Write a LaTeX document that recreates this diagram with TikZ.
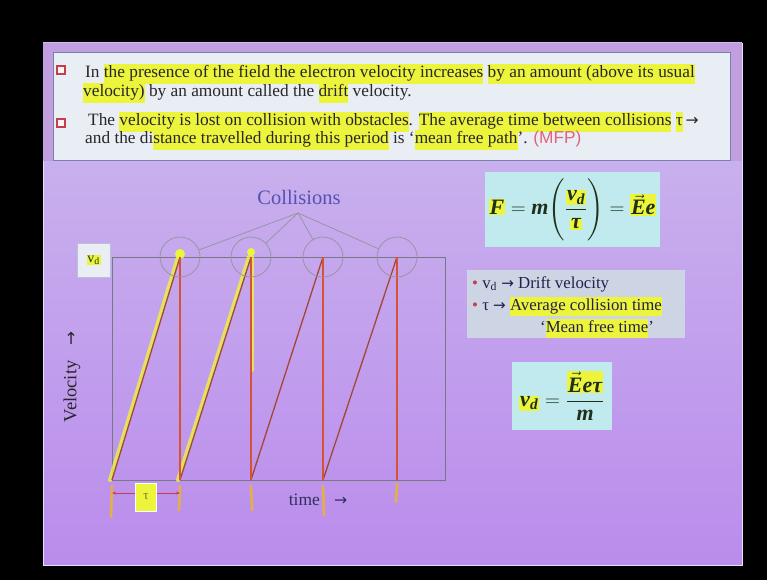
\documentclass[tikz,border=0pt]{standalone}
\usepackage{amsmath}
\usepackage{fontspec}
\setmainfont{Liberation Serif}
\newfontfamily\mfpfont{Liberation Sans}
\newfontfamily\arrf{DejaVu Sans}
\usetikzlibrary{arrows.meta}
\definecolor{slidetop}{RGB}{205,186,238}
\definecolor{slidemid}{RGB}{237,235,245}
\definecolor{slidebot}{RGB}{186,140,236}
\definecolor{boxfill}{RGB}{232,238,244}
\definecolor{boxline}{RGB}{120,128,176}
\definecolor{textc}{RGB}{40,38,44}
\definecolor{hly}{RGB}{236,244,60}
\definecolor{bred}{RGB}{200,60,80}
\definecolor{eqfill}{RGB}{192,234,238}
\definecolor{legfill}{RGB}{205,213,228}
\definecolor{eqtext}{RGB}{30,48,28}
\definecolor{collc}{RGB}{82,82,178}
\definecolor{greyl}{RGB}{150,150,162}
\definecolor{rampc}{RGB}{165,70,52}
\definecolor{vertc}{RGB}{215,82,50}
\definecolor{penc}{RGB}{228,176,70}
\definecolor{mfpc}{RGB}{222,100,130}
\definecolor{navy}{RGB}{48,46,96}
\newcommand\hl[1]{{\setlength{\fboxsep}{0pt}\colorbox{hly}{\strut #1}}}
\newcommand\hlm[1]{{\setlength{\fboxsep}{0.8pt}\colorbox{hly}{#1}}}
\newcommand\bi[1]{\textbf{\textit{#1}}}
\newcommand\rarr{{\arrf\scalebox{0.9}{→}}}
\tikzset{
  txt/.style={anchor=base west, inner sep=0pt, text=textc, font=\fontsize{17.3}{19.5}\selectfont},
  legtxt/.style={anchor=base west, inner sep=0pt, text=textc!85!blue, font=\fontsize{16.8}{19}\selectfont},
  chk/.style={draw=bred, line width=1.2pt, fill=white!85!pink, minimum size=8pt, inner sep=0pt},
  eqbox/.style={fill=eqfill, inner sep=0pt, text=eqtext},
  collcirc/.style={circle, draw=greyl, line width=0.8pt, minimum size=40pt, inner sep=0pt},
  ramp/.style={draw=rampc, line width=1.3pt},
  vert/.style={draw=vertc, line width=1.3pt},
  pen/.style={draw=penc, line width=2.6pt, line cap=round},
  hlpen/.style={draw=hly, line width=4pt, line cap=round, opacity=0.8},
}
\begin{document}
\begin{tikzpicture}[x=1pt,y=-1pt]
\useasboundingbox (0,0) rectangle (767,580);
\fill[black] (0,0) rectangle (767,580);
% slide
\shade[top color=slidetop, middle color=slidemid, bottom color=slidebot] (43,43) rectangle (742,565);
\draw[white!70!slidebot, line width=0.8pt] (43,43) rectangle (742,565);
\fill[slidetop!85!violet] (43,43) rectangle (742,52);
\fill[slidetop!85!violet] (43,43) rectangle (53,161);
\fill[slidetop!85!violet] (730,43) rectangle (742,161);
% text box
\draw[fill=boxfill, draw=boxline, line width=0.8pt] (53,52) rectangle (730,160);
\node[chk] (b1) at (61,70) {};
\node[chk] (b2) at (61,123) {};
\node[txt] (l1) at (85,78) {In \hl{the presence of the field the electron velocity increases} \hl{by an amount (above its usual}};
\node[txt] (l2) at (83,97) {\hl{velocity)} by an amount called the \hl{drift} velocity.};
\node[txt] (l3) at (88,126) {The \hl{velocity is lost on collision with obstacles}. \hl{The average time between collisions} \hl{τ}\,\rarr};
\node[txt] (l4) at (85,144) {and the di\hl{stance travelled during this period} is ‘\hl{mean free path}’. {\mfpfont\color{mfpc}(MFP)}};

% graph
\coordinate (b0) at (112,480);
\coordinate (b1x) at (180,480);
\coordinate (b2x) at (251,480);
\coordinate (b3x) at (323,480);
\coordinate (b4x) at (397,480);
\coordinate (t1) at (180,257);
\coordinate (t2) at (251,257);
\coordinate (t3) at (323,257);
\coordinate (t4) at (397,257);
\draw[greyl!80!black, line width=0.9pt] (112,257) rectangle (445,480);
% highlights
\draw[hlpen] ([xshift=-2pt]b0) -- ([xshift=-2pt]t1);
\draw[hlpen] ([xshift=-2pt]b1x) -- ([xshift=-2pt]t2);
\draw[hlpen] ([xshift=1pt]t2) -- (252,370);
\fill[hly] (180,254) circle (5pt);
\fill[hly] (251,252) circle (4pt);
% sawtooth
\draw[ramp] (b0) -- (t1);
\draw[ramp] (b1x) -- (t2);
\draw[ramp] (b2x) -- (t3);
\draw[ramp] (b3x) -- (t4);
\draw[vert] (t1) -- (b1x);
\draw[vert] (t2) -- (b2x);
\draw[vert] (t3) -- (b3x);
\draw[vert] (t4) -- (b4x);
% pen marks below axis
\coordinate (p0) at (111,517);
\coordinate (p1) at (179,510);
\coordinate (p2) at (252,510);
\coordinate (p3) at (324,515);
\coordinate (p4) at (396,502);
\draw[pen] ([yshift=-6pt]b0) -- (p0);
\draw[pen] ([yshift=-6pt]b1x) -- (p1);
\draw[pen] ([yshift=-6pt]b2x) -- (p2);
\draw[pen] ([yshift=-6pt]b3x) -- (p3);
\draw[pen] ([yshift=-4pt]b4x) -- (p4);
% collisions
\node[collcirc] (c1) at (t1) {};
\node[collcirc] (c2) at (t2) {};
\node[collcirc] (c3) at (t3) {};
\node[collcirc] (c4) at (t4) {};
\node[text=collc, font=\fontsize{20.5}{23}\selectfont] (coll) at (299,197) {Collisions};
\coordinate (apex) at (298,213);
\foreach \c in {c1,c2,c3,c4} \draw[greyl, line width=0.8pt] (apex) -- (\c);
% vd label
\node[draw=boxline!50!white, fill=boxfill, minimum width=33pt, minimum height=34pt, inner sep=0pt, text=eqtext] (vdl) at (93.5,260) {\hlm{\fontsize{14}{16}\selectfont v\textsubscript{d}}};
% tau marker
\coordinate (ta) at (112,493);
\coordinate (tb) at (180,493);
\draw[bred, line width=0.7pt, {Stealth[length=4pt]}-{Stealth[length=4pt]}] (ta) -- (tb);
\node[fill=hly, draw=white, line width=1pt, minimum width=21pt, minimum height=28pt, inner sep=0pt, text=textc!60!hly, font=\fontsize{13}{15}\selectfont] (tau) at (146,497) {τ};
% axis labels
\node[text=navy, font=\fontsize{17.5}{20}\selectfont] (time) at (318,500) {time\;\; \rarr};
\node[rotate=90, text=textc, font=\fontsize{18.5}{21}\selectfont] (vel) at (72,377) {Velocity\;\; \rarr};
% F equation
\node[eqbox, minimum width=175pt, minimum height=75pt] (feq) at (572.5,209.5)
  {\fontsize{22}{26}\selectfont $\hlm{\bi{F}} = \bi{m}\Bigg(\dfrac{\hlm{\bi{v}\textsubscript{\bi{d}}}}{\hlm{\bi{τ}}}\Bigg) = \hlm{$\vec{\bi{E}}$\bi{e}}$};
% legend
\node[fill=legfill, minimum width=218pt, minimum height=68pt, inner sep=0pt] (leg) at (576,304) {};
\node[legtxt] (g1) at (472,288) {{\color{bred}\textbullet} v\textsubscript{d} \rarr\ Drift velocity};
\node[legtxt] (g2) at (472,310) {{\color{bred}\textbullet} τ \rarr\ \hl{Average collision time}};
\node[legtxt] (g3) at (540,332) {‘\hl{Mean free time}’};
% vd equation
\node[eqbox, minimum width=100pt, minimum height=68pt] (vdeq) at (562,396)
  {\fontsize{22}{26}\selectfont $\hlm{\bi{v}\textsubscript{\bi{d}}} = \dfrac{\hlm{$\vec{\bi{E}}$\bi{e}\bi{τ}}}{\bi{m}}$};
\end{tikzpicture}
\end{document}
